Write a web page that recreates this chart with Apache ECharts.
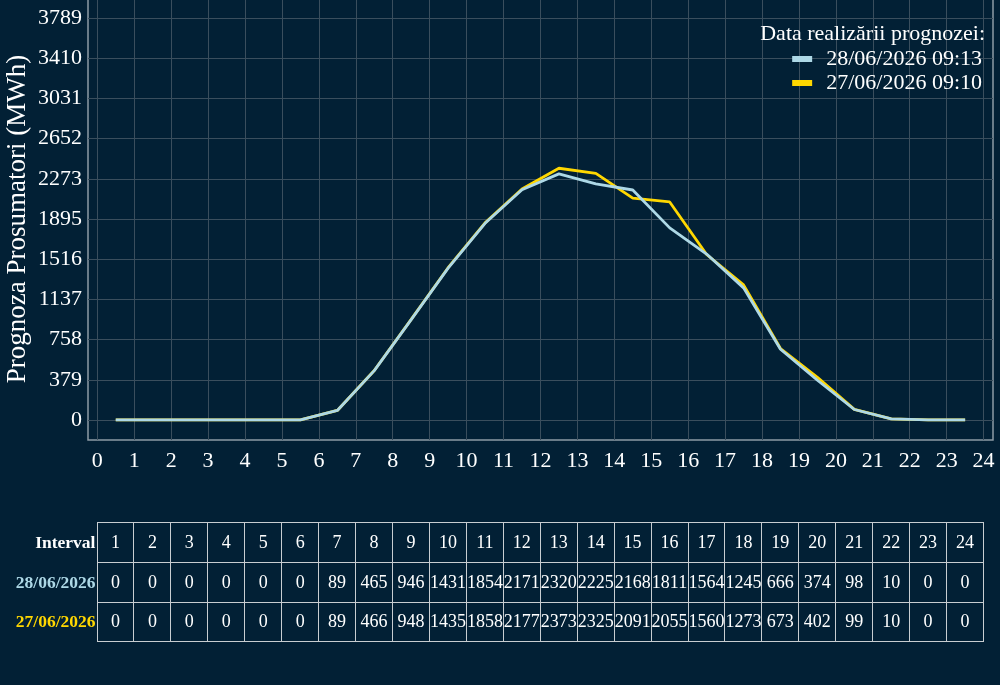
<!DOCTYPE html>
<html lang="ro">

<head>
    <meta charset="UTF-8">
    <title>Prognoza Prosumatori</title>
    <script src="https://cdn.jsdelivr.net/npm/echarts/dist/echarts.min.js"></script>
    <style>
        body {
            margin: 0;
            background: #022035;
            font-family: "Liberation Serif", serif;
        }

        #main {
            position: absolute;
            left: 0;
            top: 0;
            width: 1000px;
            height: 685px;
        }

        #tbl {
            position: absolute;
            left: 0;
            top: 522px;
            width: 984px;
            border-collapse: collapse;
            table-layout: fixed;
            color: #fff;
        }

        #tbl td {
            border: 1.5px solid #c8cdd1;
            height: 38.8px;
            padding: 0;
            text-align: center;
            font-size: 18px;
            white-space: nowrap;
        }

        #tbl td.lbl {
            border: none;
            text-align: right;
            font-weight: bold;
            font-size: 17.5px;
            padding-right: 1px;
        }
    </style>
</head>

<body>
    <div id="main"></div>
    <table id="tbl"></table>

    <script>
        // date din grafic
        const intervals = [1, 2, 3, 4, 5, 6, 7, 8, 9, 10, 11, 12, 13, 14, 15, 16, 17, 18, 19, 20, 21, 22, 23, 24];
        const hours = [0.5, 1.5, 2.5, 3.5, 4.5, 5.5, 6.5, 7.5, 8.5, 9.5, 10.5, 11.5, 12.5, 13.5, 14.5, 15.5, 16.5, 17.5, 18.5, 19.5, 20.5, 21.5, 22.5, 23.5];
        const prog2806 = [0, 0, 0, 0, 0, 0, 89, 465, 946, 1431, 1854, 2171, 2320, 2225, 2168, 1811, 1564, 1245, 666, 374, 98, 10, 0, 0];
        const prog2706 = [0, 0, 0, 0, 0, 0, 89, 466, 948, 1435, 1858, 2177, 2373, 2325, 2091, 2055, 1560, 1273, 673, 402, 99, 10, 0, 0];
        const name2806 = '28/06/2026 09:13';
        const name2706 = '27/06/2026 09:10';
        const yStep = 378.9;
        const yTop = 3789;

        const blue = '#add8e6';
        const gold = '#ffd700';
        const font = 'Liberation Serif';
        const gridColor = '#3a4e5d';

        const myChart = echarts.init(document.getElementById('main'));

        const option = {
            backgroundColor: '#022035',
            animation: false,
            title: {
                text: 'Data realizării prognozei:',
                right: 10,
                top: 18,
                textStyle: { color: '#fff', fontSize: 22, fontWeight: 'normal', fontFamily: font }
            },
            legend: {
                orient: 'vertical',
                right: 13,
                top: 43,
                itemGap: 2,
                itemWidth: 20,
                itemHeight: 6,
                icon: 'rect',
                data: [name2806, name2706],
                textStyle: { color: '#fff', fontSize: 22, fontFamily: font, padding: [0, 0, 0, 9] }
            },
            grid: [
                // cadrul graficului
                { left: 88, right: 7, top: -2, height: 442, show: true, borderColor: '#8d9ba5', borderWidth: 1.5, outerBoundsMode: 'none' },
                // ore 0..24 si liniile
                { left: 97.3, width: 886.3, top: -2, height: 442, outerBoundsMode: 'none' },
                // etichetele axei Y
                { left: 88, right: 7, top: 18, height: 402, outerBoundsMode: 'none' }
            ],
            xAxis: [{
                gridIndex: 0, type: 'value', min: 0, max: 1, show: false
            }, {
                gridIndex: 1,
                type: 'value',
                min: 0,
                max: 24,
                interval: 1,
                axisLine: { show: false },
                axisTick: { show: false },
                splitLine: { lineStyle: { color: gridColor, width: 1 } },
                axisLabel: { color: '#fff', fontSize: 22, fontFamily: font, margin: 10 }
            }, {
                gridIndex: 2, type: 'value', min: 0, max: 1, show: false
            }],
            yAxis: [{
                gridIndex: 0, type: 'value', min: 0, max: 1, show: false
            }, {
                gridIndex: 1,
                type: 'value',
                min: -yTop * 0.05,
                max: yTop * 1.05,
                show: false
            }, {
                gridIndex: 2,
                type: 'value',
                min: 0,
                max: yTop,
                interval: yStep,
                axisLine: { show: false },
                axisTick: { show: false },
                splitLine: { lineStyle: { color: gridColor, width: 1 } },
                axisLabel: {
                    color: '#fff', fontSize: 22, fontFamily: font, margin: 6,
                    formatter: v => Math.round(v)
                },
                name: 'Prognoza Prosumatori (MWh)',
                nameLocation: 'middle',
                nameGap: 57,
                nameMoveOverlap: false,
                nameTextStyle: { color: '#fff', fontSize: 27, fontFamily: font }
            }],
            series: [{
                name: name2706,
                type: 'line',
                xAxisIndex: 1,
                yAxisIndex: 1,
                data: hours.map((h, i) => [h, prog2706[i]]),
                showSymbol: false,
                lineStyle: { color: gold, width: 2.8 },
                itemStyle: { color: gold }
            }, {
                name: name2806,
                type: 'line',
                xAxisIndex: 1,
                yAxisIndex: 1,
                data: hours.map((h, i) => [h, prog2806[i]]),
                showSymbol: false,
                lineStyle: { color: blue, width: 2.8 },
                itemStyle: { color: blue }
            }]
        };

        myChart.setOption(option);

        // tabelul de sub grafic
        const rows = [
            { label: 'Interval', color: '#fff', values: intervals },
            { label: '28/06/2026', color: blue, values: prog2806 },
            { label: '27/06/2026', color: gold, values: prog2706 }
        ];
        const tbl = document.getElementById('tbl');
        let html = '<colgroup><col style="width:97px">' + intervals.map(() => '<col>').join('') + '</colgroup>';
        rows.forEach(r => {
            html += '<tr><td class="lbl" style="color:' + r.color + '">' + r.label + '</td>';
            r.values.forEach(v => { html += '<td>' + v + '</td>'; });
            html += '</tr>';
        });
        tbl.innerHTML = html;
    </script>
</body>

</html>
